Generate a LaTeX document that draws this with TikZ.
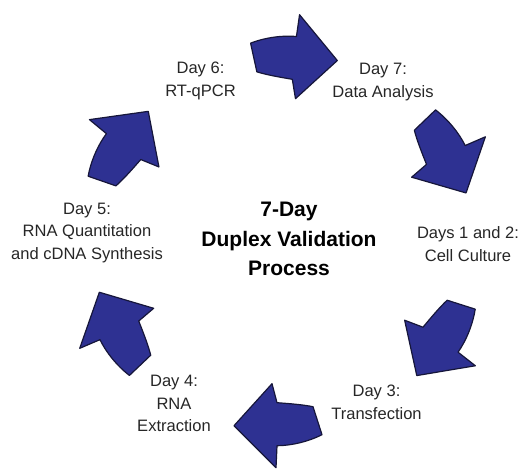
\documentclass[tikz,border=0pt]{standalone}
\usepackage{fontspec}
\setmainfont{Liberation Sans}
\usetikzlibrary{positioning}

\definecolor{arrowblue}{RGB}{46,49,146}
\definecolor{arrowedge}{RGB}{22,22,58}

\tikzset{
  daytext/.style={align=center, inner sep=0pt, text=black!85, font=\fontsize{12.4}{16.9}\selectfont},
  titletext/.style={align=center, inner sep=0pt, font=\bfseries\fontsize{15.75}{22.3}\selectfont},
  bentarrow/.style={fill=arrowblue, draw=arrowedge, line width=0.9pt, line join=round}
}

\begin{document}
\begin{tikzpicture}[x=0.75pt, y=-0.75pt]
      \useasboundingbox (0,0) rectangle (527,470);

      % Nodes
      \node[titletext] (title) at (289,239) {7-Day\\Duplex Validation\\Process};
      \node[daytext] (day12) at (468,244) {Days 1 and 2:\\Cell Culture};
      \node[daytext] (day3) at (376.5,402.5) {Day 3:\\Transfection};
      \node[daytext] (day4) at (174,403.5) {Day 4:\\RNA\\Extraction};
      \node[daytext] (day5) at (87,233) {Day 5:\\RNA Quantitation\\and cDNA Synthesis};
      \node[daytext] (day6) at (200.5,81) {Day 6:\\RT-qPCR};
      \node[daytext] (day7) at (383,82) {Day 7:\\Data Analysis};

      % Arrows
      \foreach \ax/\ay/\ang in {297.5/56.7/-5.5, 448.5/157/-64, 440/343/-125.5,
                                274/425.7/180, 116.7/328.3/115.7, 124.2/143.3/53}{
        \begin{scope}[shift={(\ax,\ay)}, rotate=\ang, yscale=-1]
          \path[bentarrow] (-48,9) .. controls (-34,16) and (-17,20) .. (-3,20)
            -- (-2,42) -- (40,0) -- (2,-42) -- (-3,-23)
            .. controls (-17,-22) and (-29,-21) .. (-39,-19) -- cycle;
        \end{scope}
      }

    \end{tikzpicture}
\end{document}
